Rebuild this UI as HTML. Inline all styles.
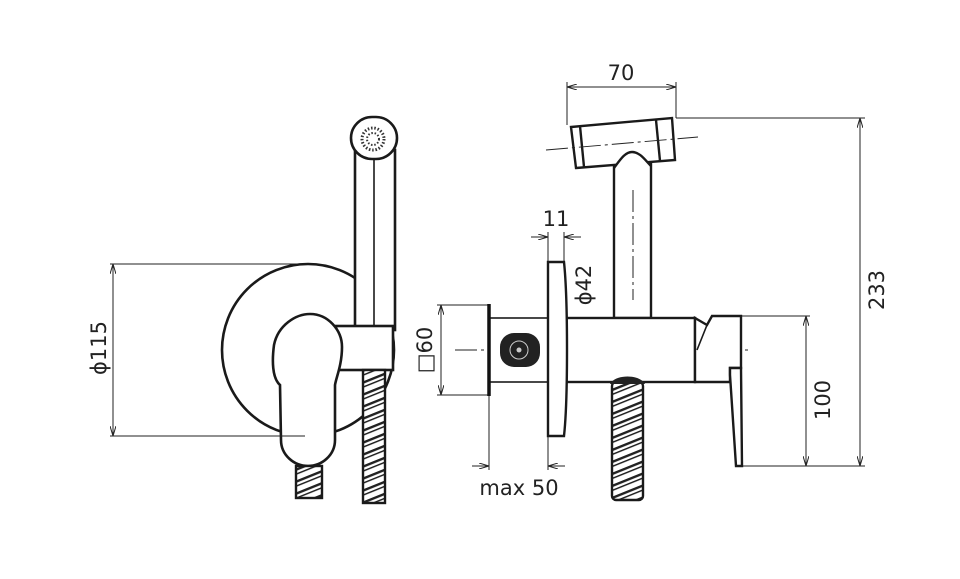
<!DOCTYPE html>
<html><head><meta charset="utf-8"><style>
html,body{margin:0;padding:0;background:#fff;width:960px;height:579px;overflow:hidden}
svg{display:block}
text{font-family:"DejaVu Sans","Liberation Sans",sans-serif;fill:#222;font-size:21px}
</style></head><body>
<svg width="960" height="579" viewBox="0 0 960 579" xmlns="http://www.w3.org/2000/svg">
<defs>
<marker id="a" viewBox="0 0 10 6" refX="10" refY="3" markerWidth="10" markerHeight="6" orient="auto-start-reverse" markerUnits="userSpaceOnUse"><path d="M0,0 L10,3 L0,6" fill="none" stroke="#222" stroke-width="1"/></marker>
<pattern id="hose" width="30" height="12" patternUnits="userSpaceOnUse" patternTransform="skewY(-22)">
<rect width="30" height="12" fill="#fff"/><rect y="0" width="30" height="2.6" fill="#222"/><rect y="5" width="30" height="1.6" fill="#222"/></pattern>
</defs>
<g fill="none" stroke="#222" stroke-width="1">
<line x1="110" y1="264" x2="300" y2="264"/>
<line x1="110" y1="436" x2="305" y2="436"/>
<line x1="113" y1="264" x2="113" y2="436" marker-start="url(#a)" marker-end="url(#a)"/>
</g>
<text transform="translate(106,348) rotate(-90)" text-anchor="middle">ϕ115</text>
<g fill="#fff" stroke="#1a1a1a" stroke-width="2.6">
<circle cx="308" cy="350" r="86"/>
<rect x="355" y="150" width="40" height="180"/>
<line x1="374" y1="160" x2="374" y2="326" stroke-width="1.6"/>
<rect x="351" y="117" width="46" height="42" rx="21"/>
<rect x="336" y="326" width="57" height="44"/>
<path d="M280,385 C272,378 272,360 274,345 C278,325 296,314 310,314 C328,314 342,330 342,347 C342,365 336,378 335,385 L335,440 C335,455 322,466 308,466 C294,466 281,455 281,440 Z"/>
</g>
<circle cx="373" cy="139" r="11" fill="none" stroke="#333" stroke-width="3" stroke-dasharray="1.5 1.8"/>
<circle cx="373" cy="139" r="6" fill="none" stroke="#333" stroke-width="2" stroke-dasharray="1.5 1.8"/>
<line x1="230" y1="436" x2="305" y2="436" stroke="#222" stroke-width="1"/>
<rect x="363" y="370" width="22" height="133" fill="url(#hose)" stroke="#1a1a1a" stroke-width="2.4"/>
<rect x="296" y="466" width="26" height="32" fill="url(#hose)" stroke="#1a1a1a" stroke-width="2.4"/>

<g fill="none" stroke="#222" stroke-width="1">
<line x1="437" y1="305" x2="489" y2="305"/>
<line x1="437" y1="395" x2="489" y2="395"/>
<line x1="441" y1="305" x2="441" y2="395" marker-start="url(#a)" marker-end="url(#a)"/>
<line x1="489" y1="395" x2="489" y2="470"/>
<line x1="548" y1="436" x2="548" y2="470"/>
<line x1="472" y1="466" x2="489" y2="466" marker-end="url(#a)"/>
<line x1="565" y1="466" x2="548" y2="466" marker-end="url(#a)"/>
<line x1="548" y1="232" x2="548" y2="262"/>
<line x1="564" y1="232" x2="564" y2="262"/>
<line x1="531" y1="237" x2="548" y2="237" marker-end="url(#a)"/>
<line x1="581" y1="237" x2="564" y2="237" marker-end="url(#a)"/>
<line x1="593" y1="318" x2="593" y2="382" marker-start="url(#a)" marker-end="url(#a)"/>
<line x1="567" y1="82" x2="567" y2="125"/>
<line x1="676" y1="82" x2="676" y2="118"/>
<line x1="567" y1="87" x2="676" y2="87" marker-start="url(#a)" marker-end="url(#a)"/>
<line x1="676" y1="118" x2="865" y2="118"/>
<line x1="742" y1="316" x2="810" y2="316"/>
<line x1="742" y1="466" x2="865" y2="466"/>
<line x1="860" y1="118" x2="860" y2="466" marker-start="url(#a)" marker-end="url(#a)"/>
<line x1="806" y1="316" x2="806" y2="466" marker-start="url(#a)" marker-end="url(#a)"/>
<line x1="455" y1="350" x2="750" y2="350" stroke-dasharray="22 4 3 4"/>
</g>
<text x="556" y="226" text-anchor="middle">11</text>
<text x="519" y="495" text-anchor="middle">max 50</text>
<text x="621" y="80" text-anchor="middle">70</text>
<text transform="translate(591,285) rotate(-90)" text-anchor="middle">ϕ42</text>
<text transform="translate(432,350) rotate(-90)" text-anchor="middle">□60</text>
<text transform="translate(884,290) rotate(-90)" text-anchor="middle">233</text>
<text transform="translate(830,400) rotate(-90)" text-anchor="middle">100</text>
<g fill="#fff" stroke="#1a1a1a" stroke-width="2.4">
<rect x="614" y="160" width="37" height="158"/>
<path d="M576,168 L675,160 L672,118 L571,127 Z"/>
<path d="M614,168 C620,160 625,152 632,152 C640,152 645,160 651,166" />
<line x1="580" y1="126" x2="584" y2="167"/>
<line x1="656" y1="120" x2="660" y2="161"/>
<rect x="489" y="318" width="59" height="64" stroke-width="1.6"/>
<rect x="564" y="318" width="131" height="64"/>
<path d="M695,318 L707,325 L712,316 L741,316 L741,368 L730,368 L730,382 L695,382 Z"/>
<line x1="707" y1="325" x2="697" y2="350" stroke-width="1.6"/>
<path d="M730,368 L741,368 L742,466 L736,466 L730,375 Z"/>
<path d="M548,262 L564,262 C568,300 568,400 564,436 L548,436 Z"/>
</g>
<line x1="489" y1="304" x2="489" y2="396" stroke="#111" stroke-width="3.5"/>
<line x1="633" y1="190" x2="633" y2="300" stroke="#222" stroke-width="1" stroke-dasharray="22 4 3 4"/>
<line x1="546" y1="150" x2="698" y2="137" stroke="#222" stroke-width="1" stroke-dasharray="22 4 3 4"/>
<rect x="500" y="333" width="40" height="34" rx="14" fill="#222"/>
<circle cx="519" cy="350" r="9" fill="none" stroke="#ccc" stroke-width="1"/>
<circle cx="519" cy="350" r="2.5" fill="#ccc"/>
<rect x="612" y="382" width="31" height="118" rx="4" fill="url(#hose)" stroke="#1a1a1a" stroke-width="2.4"/>
<path d="M610,384 C615,374 640,374 645,384 Z" fill="#222"/>
</svg>
</body></html>
